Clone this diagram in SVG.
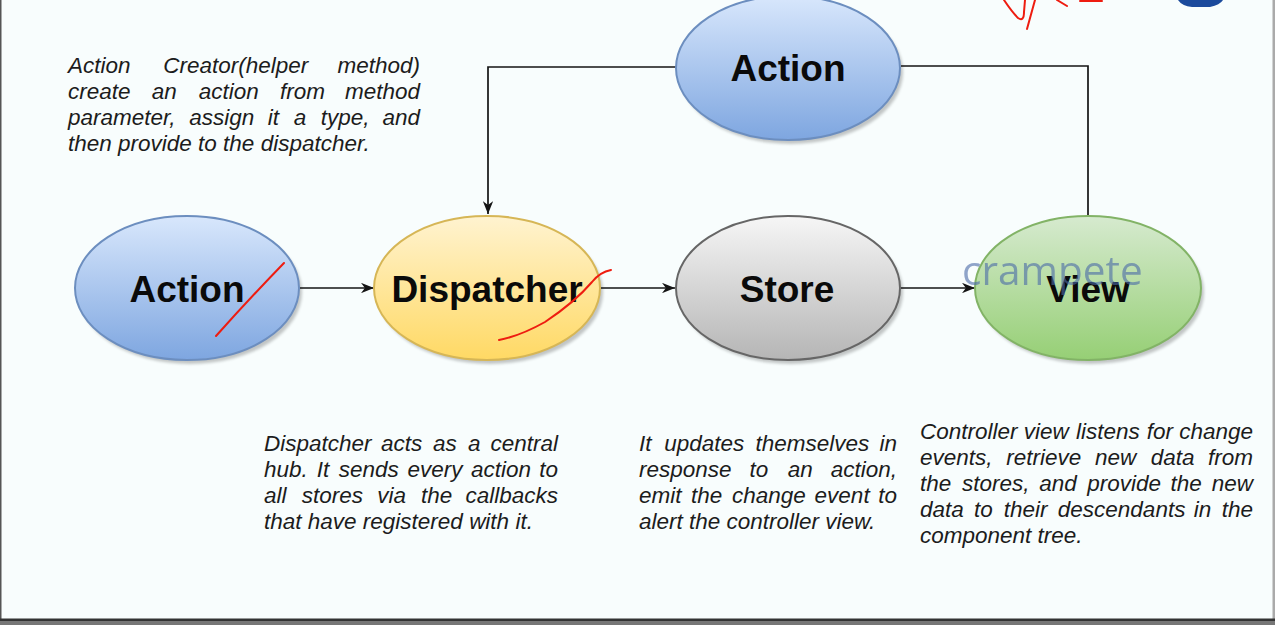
<svg xmlns="http://www.w3.org/2000/svg" width="1275" height="625" viewBox="0 0 1275 625">
<style>
.lbl{font-family:"Liberation Sans",Arial,sans-serif;font-weight:bold;font-size:37px;fill:#0a0a0a;text-anchor:middle}
.desc{font-family:"Liberation Sans",Arial,sans-serif;font-style:italic;font-size:22.5px;fill:#1c1c1c}
.e{text-anchor:end}
.conn{fill:none;stroke:#141414;stroke-width:1.7}
.node{stroke-width:2}
.shadow{fill:#000;opacity:0.22;filter:url(#blur)}
.red{fill:none;stroke:#ee1c10;stroke-width:2;stroke-linecap:round;stroke-linejoin:round}
</style>
<defs>
<linearGradient id="gBlue" x1="0" y1="0" x2="0" y2="1"><stop offset="0" stop-color="#d8e7fc"/><stop offset="1" stop-color="#7ea6e0"/></linearGradient>
<linearGradient id="gYellow" x1="0" y1="0" x2="0" y2="1"><stop offset="0" stop-color="#fff3d0"/><stop offset="1" stop-color="#ffd964"/></linearGradient>
<linearGradient id="gGray" x1="0" y1="0" x2="0" y2="1"><stop offset="0" stop-color="#f6f6f6"/><stop offset="1" stop-color="#b5b5b5"/></linearGradient>
<linearGradient id="gGreen" x1="0" y1="0" x2="0" y2="1"><stop offset="0" stop-color="#d6eacf"/><stop offset="1" stop-color="#96cf75"/></linearGradient>
<filter id="blur" x="-10%" y="-10%" width="120%" height="120%"><feGaussianBlur stdDeviation="1.8"/></filter>
<marker id="arr" viewBox="0 0 10 8" refX="10" refY="4" markerWidth="13" markerHeight="10.5" orient="auto" markerUnits="userSpaceOnUse"><path d="M0,0 L10,4 L0,8 L3,4 Z" fill="#141414"/></marker>
</defs>
<rect x="0" y="0" width="1275" height="625" fill="#f8fdfd"/>
<rect x="0" y="0" width="1.5" height="620" fill="#555"/>
<rect x="1272.5" y="0" width="2.5" height="620" fill="#aaa"/>
<rect x="0" y="618.5" width="1275" height="2.5" fill="#333"/>
<rect x="0" y="621" width="1275" height="4" fill="#777"/>

<g id="connectors">
<line class="conn" x1="300" y1="288" x2="374" y2="288" marker-end="url(#arr)"/>
<line class="conn" x1="601" y1="288" x2="675" y2="288" marker-end="url(#arr)"/>
<line class="conn" x1="901" y1="288" x2="975" y2="288" marker-end="url(#arr)"/>
<polyline class="conn" points="676,67 488,67 488,214" marker-end="url(#arr)"/>
<polyline class="conn" points="901,66 1088,66 1088,215"/>
</g>

<g id="node-action-top">
<ellipse class="shadow" cx="791" cy="72" rx="112" ry="72"/>
<ellipse class="node" cx="788" cy="68" rx="112" ry="72" fill="url(#gBlue)" stroke="#6c8ebf"/>
<text class="lbl" x="788" y="81">Action</text>
</g>
<g id="node-action">
<ellipse class="shadow" cx="190" cy="292" rx="112" ry="72"/>
<ellipse class="node" cx="187" cy="288" rx="112" ry="72" fill="url(#gBlue)" stroke="#6c8ebf"/>
<text class="lbl" x="187" y="302">Action</text>
</g>
<g id="node-dispatcher">
<ellipse class="shadow" cx="490" cy="292" rx="113" ry="72"/>
<ellipse class="node" cx="487" cy="288" rx="113" ry="72" fill="url(#gYellow)" stroke="#d6b656"/>
<text class="lbl" x="487" y="302">Dispatcher</text>
</g>
<g id="node-store">
<ellipse class="shadow" cx="791" cy="292" rx="112" ry="72"/>
<ellipse class="node" cx="788" cy="288" rx="112" ry="72" fill="url(#gGray)" stroke="#666"/>
<text class="lbl" x="787" y="302">Store</text>
</g>
<g id="node-view">
<ellipse class="shadow" cx="1091" cy="292" rx="113" ry="72"/>
<ellipse class="node" cx="1088" cy="288" rx="113" ry="72" fill="url(#gGreen)" stroke="#82b366"/>
<text class="lbl" x="1088" y="302">View</text>
</g>

<g id="desc-action-creator" class="desc">
<text y="73"><tspan x="68">Action</tspan><tspan x="163.3">Creator(helper</tspan><tspan x="420" class="e">method)</tspan></text>
<text y="99"><tspan x="68">create</tspan><tspan x="151.7">an</tspan><tspan x="198.8">action</tspan><tspan x="280.1">from</tspan><tspan x="420" class="e">method</tspan></text>
<text y="125"><tspan x="68">parameter,</tspan><tspan x="189.3">assign</tspan><tspan x="267.8">it</tspan><tspan x="293.7">a</tspan><tspan x="320.8">type,</tspan><tspan x="420" class="e">and</tspan></text>
<text y="151" x="68">then provide to the dispatcher.</text>
</g>

<g id="desc-dispatcher" class="desc">
<text y="451"><tspan x="264">Dispatcher</tspan><tspan x="380.9">acts</tspan><tspan x="433">as</tspan><tspan x="468">a</tspan><tspan x="558" class="e">central</tspan></text>
<text y="477"><tspan x="264">hub.</tspan><tspan x="316.7">It</tspan><tspan x="338.8">sends</tspan><tspan x="407.4">every</tspan><tspan x="471.1">action</tspan><tspan x="558" class="e">to</tspan></text>
<text y="503"><tspan x="264">all</tspan><tspan x="301.7">stores</tspan><tspan x="377.3">via</tspan><tspan x="421.1">the</tspan><tspan x="558" class="e">callbacks</tspan></text>
<text y="529" x="264">that have registered with it.</text>
</g>

<g id="desc-store" class="desc">
<text y="451"><tspan x="639">It</tspan><tspan x="664.2">updates</tspan><tspan x="755.5">themselves</tspan><tspan x="897" class="e">in</tspan></text>
<text y="477"><tspan x="639">response</tspan><tspan x="749.5">to</tspan><tspan x="787.8">an</tspan><tspan x="897" class="e">action,</tspan></text>
<text y="503"><tspan x="639">emit</tspan><tspan x="691">the</tspan><tspan x="732">change</tspan><tspan x="814.6">event</tspan><tspan x="897" class="e">to</tspan></text>
<text y="529" x="639">alert the controller view.</text>
</g>

<g id="desc-view" class="desc">
<text y="439"><tspan x="920">Controller</tspan><tspan x="1023.7">view</tspan><tspan x="1076.1">listens</tspan><tspan x="1146.8">for</tspan><tspan x="1253" class="e">change</tspan></text>
<text y="465"><tspan x="920">events,</tspan><tspan x="1006.3">retrieve</tspan><tspan x="1095">new</tspan><tspan x="1150.7">data</tspan><tspan x="1253" class="e">from</tspan></text>
<text y="491"><tspan x="920">the</tspan><tspan x="961.9">stores,</tspan><tspan x="1039.2">and</tspan><tspan x="1087.2">provide</tspan><tspan x="1170.6">the</tspan><tspan x="1253" class="e">new</tspan></text>
<text y="517"><tspan x="920">data</tspan><tspan x="974.1">to</tspan><tspan x="1003.7">their</tspan><tspan x="1057.8">descendants</tspan><tspan x="1193.8">in</tspan><tspan x="1253" class="e">the</tspan></text>
<text y="543" x="920">component tree.</text>
</g>

<g id="annotations">
<text x="962" y="285" font-family="'Open Sans',sans-serif" font-size="40.5" fill="#4a6aa8" opacity="0.6">crampete</text>
<path class="red" d="M216,336 Q250,298 284,263"/>
<path class="red" d="M499,340 Q520,336 545,322 Q575,302 592,282 Q600,272 611,270"/>
<path class="red" d="M1004,0 Q1012,12 1018,18 Q1024,22 1024,12 L1025,0"/>
<path class="red" d="M1035,0 L1027,29"/>
<path class="red" d="M1057,0 L1067,6"/>
<path class="red" d="M1080,1 L1102,1"/>
<path d="M1178,0 Q1182,6 1192,7 L1210,7 Q1220,5 1223,0 Z" fill="#1b4a9c"/>
</g>
</svg>
